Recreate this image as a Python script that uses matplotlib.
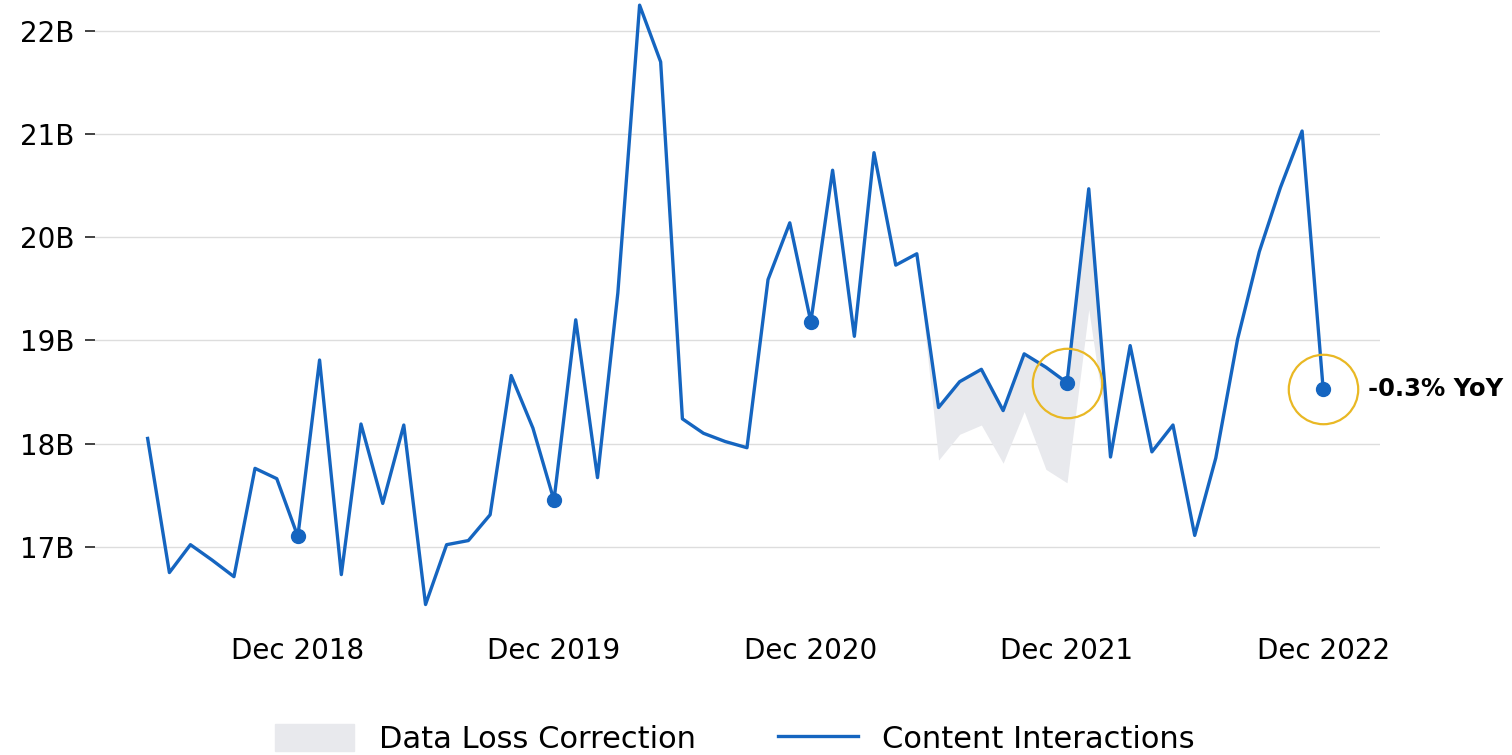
import pandas as pd
import numpy as np
import matplotlib
matplotlib.use("Agg")
import matplotlib.pyplot as plt
import matplotlib.dates as mdates
from matplotlib.patches import Patch
from matplotlib.lines import Line2D

# Datos mensuales (miles de millones)
months = pd.date_range("2018-05-01", "2022-12-01", freq="MS")
interactions = [
    18.05, 16.75, 17.02, 16.87, 16.71, 17.76, 17.66, 17.10,
    18.81, 16.73, 18.19, 17.42, 18.18, 16.44, 17.02, 17.06, 17.31, 18.66, 18.15, 17.45,
    19.20, 17.67, 19.46, 22.25, 21.70, 18.24, 18.10, 18.02, 17.96, 19.59, 20.14, 19.18,
    20.65, 19.04, 20.82, 19.73, 19.84, 18.35, 18.60, 18.72, 18.32, 18.87, 18.74, 18.59,
    20.47, 17.87, 18.95, 17.92, 18.18, 17.11, 17.86, 19.01, 19.86, 20.48, 21.03, 18.53,
]
# Banda de corrección (mayo 2021 - febrero 2022)
band_months = pd.date_range("2021-05-01", "2022-02-01", freq="MS")
band_lower = [19.84, 17.84, 18.09, 18.18, 17.81, 18.31, 17.75, 17.62, 19.30, 17.87]
highlight_dates = pd.to_datetime(["2021-12-01", "2022-12-01"])
yoy_label = "-0.3% YoY"
yticks = [17, 18, 19, 20, 21, 22]
ytick_labels = ["17B", "18B", "19B", "20B", "21B", "22B"]
xtick_dates = pd.to_datetime(["2018-12-01", "2019-12-01", "2020-12-01", "2021-12-01", "2022-12-01"])
xtick_labels = ["Dec 2018", "Dec 2019", "Dec 2020", "Dec 2021", "Dec 2022"]

df = pd.DataFrame({"fecha": months, "valor": interactions}).set_index("fecha")
band_upper = df.loc[band_months, "valor"].values

blue = "#1565c0"
grey = "#e8e9ed"
gold = "#e9b824"

fig = plt.figure(figsize=(15.12, 7.55), dpi=100)
ax = fig.add_axes([95 / 1512, 135 / 755, 1285 / 1512, 620 / 755])

ax.fill_between(band_months, band_lower, band_upper, color=grey, lw=0, zorder=1)
ax.plot(df.index, df["valor"], color=blue, lw=2.4, zorder=3)

# Puntos de diciembre
dec = df[df.index.month == 12]
ax.plot(dec.index, dec["valor"], "o", color=blue, ms=10, zorder=4)

# Círculos amarillos
ax.plot(highlight_dates, df.loc[highlight_dates, "valor"], "o", ms=50, mfc="none",
        mec=gold, mew=1.6, zorder=5)

last = df.index[-1]
ax.annotate(yoy_label, (last, df["valor"].iloc[-1]), xytext=(32, 0), textcoords="offset points",
            ha="left", va="center", fontsize=17.5, fontweight="bold", color="black")

ax.set_ylim(16.29, 22.30)
ax.set_xlim(pd.Timestamp("2018-02-15"), pd.Timestamp("2023-02-20"))
ax.set_yticks(yticks)
ax.set_yticklabels(ytick_labels, fontsize=20)
ax.set_xticks(xtick_dates)
ax.set_xticklabels(xtick_labels, fontsize=20)
ax.grid(axis="y", color="#dddddd", lw=1)
ax.set_axisbelow(True)
ax.tick_params(axis="y", length=7, width=1.3, color="#333333", pad=8)
ax.tick_params(axis="x", length=0, pad=12)
for s in ax.spines.values():
    s.set_visible(False)

handles = [Patch(color=grey, label="Data Loss Correction"),
           Line2D([], [], color=blue, lw=2.4, label="Content Interactions")]
fig.legend(handles=handles, loc="lower center", bbox_to_anchor=(0.486, -0.035), ncol=2,
           frameon=False, fontsize=22, handlelength=2.6, handleheight=1.0, columnspacing=2.7)

plt.savefig("out.png", dpi=100)
